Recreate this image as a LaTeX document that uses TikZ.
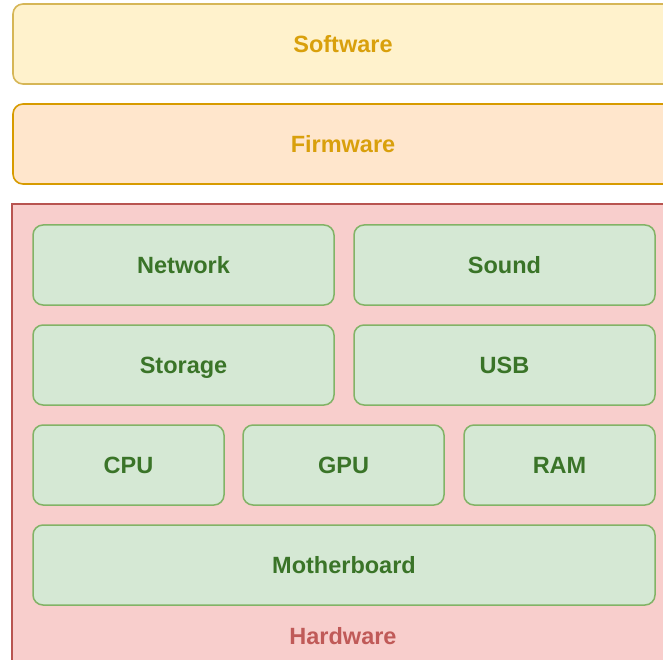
\documentclass[tikz,border=0pt]{standalone}
\usepackage{fontspec}
\setmainfont{Liberation Sans}
\definecolor{swfill}{HTML}{FFF2CC}
\definecolor{swline}{HTML}{D6B656}
\definecolor{fwfill}{HTML}{FFE6CC}
\definecolor{fwline}{HTML}{D79B00}
\definecolor{amber}{HTML}{D9A00C}
\definecolor{hwfill}{HTML}{F8CECC}
\definecolor{hwline}{HTML}{B85450}
\definecolor{hwtext}{HTML}{C05A58}
\definecolor{partfill}{HTML}{D5E8D4}
\definecolor{partline}{HTML}{82B366}
\definecolor{parttext}{HTML}{3A7428}
\tikzset{
  layer/.style={draw, line width=1.6pt, rounded corners=10pt},
  part/.style={draw=partline, fill=partfill, line width=1.5pt, rounded corners=10pt},
  lbl/.style={font=\fontsize{23.5}{27}\selectfont\bfseries, inner sep=0pt,
    text height=16.8pt, text depth=0pt, anchor=center},
}
\begin{document}
\begin{tikzpicture}[x=1pt,y=-1pt]
  \useasboundingbox (0,0) rectangle (663,660);
  \clip (0,0) rectangle (663,660);
  % software and firmware layers
  \draw[layer, draw=swline, fill=swfill] (13,4) rectangle (675,84);
  \node[lbl, text=amber] (software) at (343,44) {Software};
  \draw[layer, draw=fwline, fill=fwfill] (13,104) rectangle (675,184);
  \node[lbl, text=amber] (firmware) at (343,144) {Firmware};
  % hardware container
  \draw[draw=hwline, fill=hwfill, line width=1.6pt] (12,204) rectangle (675,690);
  \node[lbl, text=hwtext] (hardware) at (343,636) {Hardware};
  % hardware parts
  \draw[part] (33,225) rectangle (334,305);
  \node[lbl, text=parttext] (network) at (183.5,265) {Network};
  \draw[part] (354,225) rectangle (655,305);
  \node[lbl, text=parttext] (sound) at (504.5,265) {Sound};
  \draw[part] (33,325) rectangle (334,405);
  \node[lbl, text=parttext] (storage) at (183.5,365) {Storage};
  \draw[part] (354,325) rectangle (655,405);
  \node[lbl, text=parttext] (usb) at (504.5,365) {USB};
  \draw[part] (33,425) rectangle (224,505);
  \node[lbl, text=parttext] (cpu) at (128.5,465) {CPU};
  \draw[part] (243,425) rectangle (444,505);
  \node[lbl, text=parttext] (gpu) at (343.5,465) {GPU};
  \draw[part] (464,425) rectangle (655,505);
  \node[lbl, text=parttext] (ram) at (559.5,465) {RAM};
  \draw[part] (33,525) rectangle (655,605);
  \node[lbl, text=parttext] (motherboard) at (344,565) {Motherboard};
\end{tikzpicture}
\end{document}
